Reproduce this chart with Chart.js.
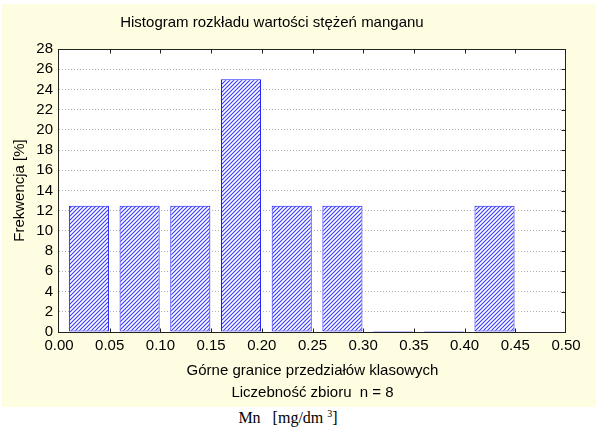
<!DOCTYPE html>
<html>
<head>
<meta charset="utf-8">
<script src="https://cdn.jsdelivr.net/npm/chart.js@4"></script>
<style>
    html, body { margin: 0; padding: 0; background: #fff; }
    #page { position: relative; width: 596px; height: 432px; overflow: hidden; }
    #wrap { position: absolute; left: 2px; top: 4px; width: 594px; height: 403px; background: #fffde1; }
    #unit {
        position: absolute; left: 0; top: 409px; width: 576px; text-align: center;
        font: 16px "Liberation Serif", "Times New Roman", serif; color: #000; white-space: pre;
    }
    #unit sup { font-size: 10px; vertical-align: 6px; line-height: 0; }
</style>
</head>
<body>
<div id="page">
    <div id="wrap"><canvas id="histChart"></canvas></div>
    <div id="unit">Mn   [mg/dm <sup>3</sup>]</div>
</div>
<script>
// bins (upper class limits) and frequencies [%]
const bins = ['0.00-0.05', '0.05-0.10', '0.10-0.15', '0.15-0.20', '0.20-0.25',
    '0.25-0.30', '0.30-0.35', '0.35-0.40', '0.40-0.45', '0.45-0.50']
const frequency = [12.5, 12.5, 12.5, 25, 12.5, 12.5, 0, 0, 12.5, null]
const xMin = 0
const xMax = 0.5
const xStep = 0.05
const yMin = 0
const yMax = 28
const yStep = 2

const titleText = 'Histogram rozkładu wartości stężeń manganu'
const xTitle = 'Górne granice przedziałów klasowych'
const yTitle = 'Frekwencja [%]'
const sampleText = 'Liczebność zbioru  n = 8'

const FONT = 'Arial, "Liberation Sans", sans-serif'

function makeHatch() {
    const c = document.createElement('canvas')
    c.width = 4
    c.height = 4
    const g = c.getContext('2d')
    g.fillStyle = '#ffffff'
    g.fillRect(0, 0, 4, 4)
    g.strokeStyle = '#3838ff'
    g.lineWidth = 1.1
    g.beginPath()
    g.moveTo(-1, 5); g.lineTo(5, -1)
    g.moveTo(-3, 3); g.lineTo(3, -3)
    g.moveTo(1, 7); g.lineTo(7, 1)
    g.stroke()
    return g.createPattern(c, 'repeat')
}

// white plot area, frame, inner tick marks and the (off-centre) title
const framePlugin = {
    id: 'frame',
    beforeDraw(chart) {
        const { ctx, chartArea: a } = chart
        ctx.save()
        ctx.fillStyle = '#ffffff'
        ctx.fillRect(a.left, a.top, a.right - a.left, a.bottom - a.top)
        ctx.restore()
    },
    afterDatasetsUpdate(chart) {
        // bars sit slightly right of the class centre
        const meta = chart.getDatasetMeta(0)
        const w = (chart.chartArea.right - chart.chartArea.left) / bins.length
        meta.data.forEach((el) => { el.x += w * 0.09 })
    },
    afterDraw(chart) {
        const { ctx, chartArea: a } = chart
        const xs = chart.scales.x2
        const ys = chart.scales.y
        ctx.save()
        ctx.strokeStyle = '#222'
        ctx.lineWidth = 1
        const l = Math.round(a.left) - 0.5
        const r = Math.round(a.right) - 0.5
        const t = Math.round(a.top) + 0.5
        const b = Math.round(a.bottom) + 0.5
        ctx.strokeRect(l, t, r - l, b - t)
        ctx.beginPath()
        xs.ticks.forEach((tk, i) => {
            if (i === 0 || i === xs.ticks.length - 1) return
            const px = Math.round(xs.getPixelForValue(tk.value)) + 0.5
            ctx.moveTo(px, t); ctx.lineTo(px, t + 4)
            ctx.moveTo(px, b); ctx.lineTo(px, b - 4)
        })
        ys.ticks.forEach((tk, i) => {
            if (i === 0 || i === ys.ticks.length - 1) return
            const py = Math.round(ys.getPixelForValue(tk.value)) + 0.5
            ctx.moveTo(r, py); ctx.lineTo(r - 4, py)
        })
        ctx.stroke()

        ctx.fillStyle = '#000'
        ctx.font = '15px ' + FONT
        ctx.textAlign = 'center'
        ctx.textBaseline = 'middle'
        ctx.fillText(titleText, a.left + (a.right - a.left) * 0.42, 19)
        ctx.restore()
    },
}

const ctx = document.getElementById('histChart').getContext('2d')
const histChart = new Chart(ctx, {
    type: 'bar',
    data: {
        labels: bins,
        datasets: [{
            data: frequency,
            backgroundColor: makeHatch(),
            borderColor: '#1a1aff',
            borderWidth: 1,
            borderSkipped: false,
            minBarLength: 1,
            barPercentage: 0.79,
            categoryPercentage: 1,
        }],
    },
    options: {
        responsive: true,
        maintainAspectRatio: false,
        animation: false,
        events: [],
        layout: { padding: { left: 0, right: 30, top: 45, bottom: 0 } },
        plugins: {
            legend: { display: false },
            tooltip: { enabled: false },
            title: { display: false },
            subtitle: {
                display: true,
                position: 'bottom',
                fullSize: false,
                text: sampleText,
                color: '#000',
                font: { family: FONT, size: 15, weight: 'normal', lineHeight: 1.2 },
                padding: { top: 0, bottom: 5 },
            },
        },
        scales: {
            x: {
                display: false,
            },
            x2: {
                type: 'linear',
                position: 'bottom',
                offset: false,
                min: xMin,
                max: xMax,
                grid: { display: false, drawTicks: false, offset: false },
                border: { display: false },
                ticks: {
                    stepSize: xStep,
                    color: '#000',
                    padding: 5,
                    maxRotation: 0,
                    autoSkip: false,
                    font: { family: FONT, size: 15 },
                    callback: (v) => v.toFixed(2),
                },
                title: {
                    display: true,
                    text: xTitle,
                    color: '#000',
                    font: { family: FONT, size: 15, lineHeight: 1.2 },
                    padding: { top: 0, bottom: 4 },
                },
                afterFit(scale) { scale.height = 52 },
            },
            y: {
                min: yMin,
                max: yMax,
                grid: { color: '#b0b0b0', lineWidth: 1, drawTicks: false },
                border: { display: false, dash: [1, 2] },
                ticks: {
                    stepSize: yStep,
                    color: '#000',
                    padding: 6,
                    autoSkip: false,
                    font: { family: FONT, size: 15 },
                },
                title: {
                    display: true,
                    text: yTitle,
                    color: '#000',
                    font: { family: FONT, size: 15, lineHeight: 1.2 },
                    padding: { top: 9, bottom: 0 },
                },
                afterFit(scale) { scale.width = 57 },
            },
        },
    },
    plugins: [framePlugin],
})
</script>
</body>
</html>
